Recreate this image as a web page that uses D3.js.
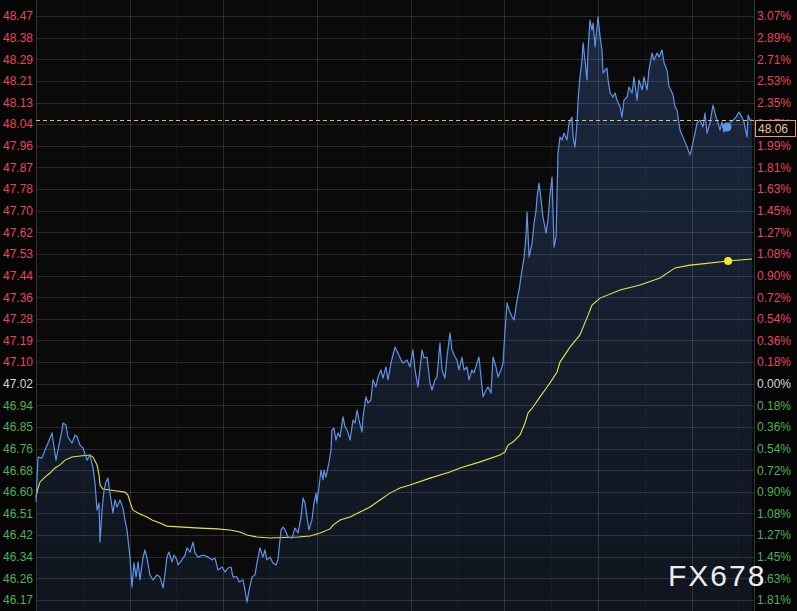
<!DOCTYPE html>
<html>
<head>
<meta charset="utf-8">
<script src="https://cdn.jsdelivr.net/npm/d3@7"></script>
<style>
  html, body { margin: 0; padding: 0; background: #000; }
  svg { display: block; }
</style>
</head>
<body>
<svg id="chart" width="797" height="611"></svg>
<script>
// ---------- DATA ----------
const baseClose = 47.0219;   // previous close (0.00% line)
const tickStep = 0.08519;    // axis step

const leftTickLabels = ["46.17","46.26","46.34","46.42","46.51","46.60","46.68","46.76","46.85","46.94",
  "47.02","47.10","47.19","47.28","47.36","47.44","47.53","47.62","47.70","47.78","47.87","47.96",
  "48.04","48.13","48.21","48.29","48.38","48.47"];
const rightTickLabels = ["1.81%","1.63%","1.45%","1.27%","1.08%","0.90%","0.72%","0.54%","0.36%","0.18%",
  "0.00%","0.18%","0.36%","0.54%","0.72%","0.90%","1.08%","1.27%","1.45%","1.63%","1.81%","1.99%",
  "2.17%","2.35%","2.53%","2.71%","2.89%","3.07%"];

// time in minutes from session start
const priceTimes = [0,1.3,3.8,5.8,7.7,10.3,10.9,12.8,14.1,16.7,17.3,19.2,20.5,23.1,25.0,26.3,28.2,30.1,32.7,34.6,
  36.5,37.8,39.1,40.4,41.0,42.3,43.6,44.8,46.1,47.4,49.3,50.6,51.9,53.8,55.7,57.0,58.3,60.2,61.5,62.8,
  64.1,65.4,66.6,68.6,69.8,71.1,73.0,75.0,77.5,79.4,81.4,82.7,83.9,85.2,87.1,88.4,90.3,91.0,93.5,95.5,
  96.7,98.7,100.6,101.9,103.8,107.0,110.2,112.8,114.7,116.6,119.2,121.1,123.0,124.9,126.2,128.8,130.1,132.6,133.9,135.2,
  136.5,138.4,140.3,141.6,143.5,145.4,146.7,147.9,149.9,151.8,153.8,155.0,157.0,158.3,159.5,161.5,164.0,165.9,167.9,169.8,
  171.1,172.3,173.6,174.9,176.8,178.1,179.4,180.0,181.3,182.6,183.9,184.5,185.8,187.1,187.7,189.0,189.6,190.9,192.2,193.5,
  194.8,196.7,198.0,199.3,201.2,203.1,204.4,205.7,206.9,208.9,209.5,211.4,212.7,214.6,215.9,217.8,219.1,221.0,222.3,224.2,
  225.5,227.4,228.7,230.0,231.9,233.9,235.1,237.7,239.6,241.5,242.8,244.7,247.3,248.6,250.5,252.4,253.7,255.6,256.9,258.8,
  260.1,262.0,263.3,265.2,266.5,268.5,269.7,271.0,272.9,274.2,276.1,277.4,279.3,280.6,282.5,283.8,285.1,286.4,288.3,289.6,
  291.5,292.8,294.7,296.0,297.9,299.2,300.5,301.8,303.1,305.0,306.3,308.2,309.5,311.4,312.7,313.9,314.6,315.9,317.8,319.1,
  320.4,321.0,322.3,323.6,324.8,326.8,328.0,329.3,330.6,331.9,333.2,334.4,335.7,337.0,338.3,340.2,341.5,343.4,344.1,345.3,
  346.6,347.3,348.5,349.8,350.5,351.7,353.0,353.7,354.9,356.2,356.9,358.2,359.4,360.1,361.4,362.6,363.3,364.6,365.8,366.5,
  367.8,369.7,371.0,372.2,374.2,375.4,376.7,378.7,379.9,381.9,383.1,385.1,386.3,388.3,389.5,391.5,392.7,394.7,395.9,397.9,
  399.2,401.1,402.4,404.3,405.6,406.2,408.1,409.4,410.7,412.6,414.5,417.1,419.0,420.3,422.2,423.5,425.4,427.3,428.6,429.9,
  431.8,433.7,435.7,437.0,438.2,439.5,440.8,442.7,444.6,446.6,448.5,450.4,452.3,453.6,455.5,456.2,457.5,458.7];
const priceValues = [46.556,46.733,46.729,46.761,46.788,46.828,46.800,46.721,46.761,46.840,46.867,46.859,46.812,46.788,46.820,46.812,46.780,46.769,46.721,46.741,
  46.690,46.631,46.524,46.552,46.398,46.524,46.603,46.635,46.650,46.591,46.513,46.564,46.536,46.564,46.532,46.485,46.446,46.339,46.221,46.316,
  46.261,46.320,46.249,46.339,46.367,46.335,46.269,46.249,46.269,46.261,46.217,46.276,46.339,46.359,46.320,46.347,46.328,46.308,46.328,46.347,
  46.375,46.359,46.398,46.355,46.339,46.347,46.339,46.328,46.335,46.288,46.300,46.280,46.296,46.300,46.261,46.261,46.241,46.249,46.209,46.162,
  46.209,46.261,46.269,46.316,46.375,46.339,46.367,46.328,46.339,46.316,46.308,46.328,46.446,46.457,46.446,46.418,46.414,46.453,46.434,46.497,
  46.572,46.552,46.497,46.446,46.485,46.552,46.591,46.552,46.615,46.682,46.643,46.682,46.654,46.694,46.710,46.761,46.840,46.847,46.800,46.828,
  46.812,46.891,46.851,46.840,46.800,46.879,46.867,46.918,46.879,46.832,46.891,46.970,46.946,46.958,47.037,47.009,47.048,47.076,47.044,47.088,
  47.037,47.103,47.135,47.166,47.143,47.115,47.103,47.115,47.088,47.155,47.076,47.009,47.155,47.123,47.127,47.025,46.997,47.037,47.048,47.182,
  47.076,47.044,47.127,47.222,47.155,47.127,47.115,47.076,47.127,47.076,47.088,47.037,47.076,47.064,47.103,47.127,47.048,46.970,46.997,47.009,
  46.985,47.127,47.088,47.048,47.076,47.103,47.233,47.340,47.312,47.285,47.273,47.352,47.391,47.470,47.521,47.600,47.698,47.521,47.576,47.655,
  47.706,47.757,47.812,47.745,47.678,47.615,47.667,47.765,47.836,47.560,47.600,47.930,47.993,47.982,48.009,47.982,48.049,48.072,47.993,47.954,
  48.049,48.139,48.230,48.297,48.364,48.297,48.218,48.336,48.454,48.415,48.442,48.348,48.427,48.466,48.387,48.336,48.246,48.257,48.265,48.218,
  48.167,48.151,48.167,48.139,48.112,48.072,48.139,48.151,48.190,48.167,48.230,48.139,48.218,48.179,48.230,48.179,48.257,48.324,48.297,48.324,
  48.309,48.336,48.285,48.257,48.190,48.186,48.159,48.112,48.100,48.021,47.993,47.954,47.923,47.954,48.009,48.049,48.060,48.033,48.088,48.009,
  48.049,48.119,48.072,48.049,48.021,48.053,48.013,48.033,48.049,48.060,48.072,48.092,48.072,48.053,47.993,48.080,48.060,48.060];

const avgTimes = [0,1.3,2.6,5.8,9.0,12.2,15.4,18.6,23.1,28.2,34.6,36.5,39.1,40.4,41.0,42.9,47.4,51.9,57.0,58.9,
  60.9,62.1,66.6,71.1,74.3,79.4,83.9,94.2,105.1,116.0,124.3,130.7,135.2,141.6,149.9,167.9,175.6,182.0,188.4,190.3,
  194.8,201.2,207.6,214.0,220.4,226.8,233.2,239.6,252.4,265.2,271.7,284.5,297.3,300.5,302.4,305.6,310.1,313.3,315.2,318.4,
  322.9,327.4,330.6,333.8,335.7,342.1,348.5,353.7,356.2,361.4,374.2,387.0,399.8,409.4,419.0,425.4,443.4,458.7];
const avgValues = [46.576,46.611,46.635,46.654,46.670,46.690,46.702,46.721,46.733,46.737,46.741,46.733,46.702,46.662,46.623,46.607,46.603,46.599,46.595,46.583,
  46.544,46.524,46.509,46.497,46.485,46.473,46.461,46.457,46.453,46.450,46.446,46.438,46.426,46.418,46.414,46.418,46.422,46.434,46.450,46.465,
  46.485,46.497,46.517,46.536,46.564,46.591,46.611,46.623,46.650,46.674,46.690,46.714,46.741,46.753,46.780,46.792,46.820,46.867,46.906,46.930,
  46.970,47.009,47.037,47.068,47.107,47.166,47.214,47.292,47.332,47.359,47.391,47.411,47.438,47.478,47.489,47.493,47.505,47.513];

const lastPrice = 48.06;
const markerIndexPrice = 287;   // hovered point
const markerIndexAvg = 76;

// ---------- LAYOUT ----------
const W = 797, H = 611;
const plotL = 36, plotR = 754;
const svg = d3.select("#chart");
svg.append("rect").attr("width", W).attr("height", H).attr("fill", "#050505");

const x = d3.scaleLinear().domain([0, 460]).range([plotL, plotR]);
const y = d3.scaleLinear()
  .domain([baseClose - 10 * tickStep, baseClose + 17 * tickStep])
  .range([600, 16]);

const RED = "#e5475d", GREEN = "#4fb15a", NEUTRAL = "#d8d8d8";

// plot background
svg.append("rect").attr("x", plotL).attr("y", 0).attr("width", plotR - plotL).attr("height", H)
  .attr("fill", "#0a0a0a");

// gradient fill under price
const defs = svg.append("defs");
const grad = defs.append("linearGradient").attr("id", "fillGrad")
  .attr("x1", 0).attr("y1", 0).attr("x2", 0).attr("y2", 1);
grad.append("stop").attr("offset", "0%").attr("stop-color", "#1c2a42").attr("stop-opacity", 0.95);
grad.append("stop").attr("offset", "100%").attr("stop-color", "#0f141d").attr("stop-opacity", 1);

const priceData = priceTimes.map((t, i) => ({ t, v: priceValues[i] }));
const avgData = avgTimes.map((t, i) => ({ t, v: avgValues[i] }));

const area = d3.area().x(d => x(d.t)).y0(H).y1(d => y(d.v));
svg.append("path").datum(priceData).attr("d", area).attr("fill", "url(#fillGrad)");

// grid
const ticksIdx = d3.range(0, leftTickLabels.length);
const tickVal = i => baseClose + (i - 10) * tickStep;
const grid = svg.append("g");
grid.selectAll("line.h").data(ticksIdx).join("line")
  .attr("x1", plotL).attr("x2", plotR)
  .attr("y1", i => Math.round(y(tickVal(i))) + 0.5).attr("y2", i => Math.round(y(tickVal(i))) + 0.5)
  .attr("stroke", "#ffffff").attr("stroke-opacity", 0.13).attr("stroke-width", 1);

const majorT = d3.range(60, 460, 60);
const minorT = d3.range(30, 460, 60);
grid.selectAll("line.vmaj").data(majorT).join("line")
  .attr("x1", d => Math.round(x(d)) + 0.5).attr("x2", d => Math.round(x(d)) + 0.5)
  .attr("y1", 0).attr("y2", H)
  .attr("stroke", "#ffffff").attr("stroke-opacity", 0.13);
grid.append("g").selectAll("line").data(minorT).join("line")
  .attr("x1", d => Math.round(x(d)) + 0.5).attr("x2", d => Math.round(x(d)) + 0.5)
  .attr("y1", 0).attr("y2", H)
  .attr("stroke", "#ffffff").attr("stroke-opacity", 0.09).attr("stroke-dasharray", "1,2");

// boundaries
svg.append("line").attr("x1", plotL + 0.5).attr("x2", plotL + 0.5).attr("y1", 0).attr("y2", H)
  .attr("stroke", "#333");
svg.append("line").attr("x1", plotR + 0.5).attr("x2", plotR + 0.5).attr("y1", 0).attr("y2", H)
  .attr("stroke", "#333");

// lines
const line = d3.line().x(d => x(d.t)).y(d => y(d.v));
svg.append("path").datum(avgData).attr("d", line)
  .attr("fill", "none").attr("stroke", "#e9e24e").attr("stroke-width", 1.1);
svg.append("path").datum(priceData).attr("d", line)
  .attr("fill", "none").attr("stroke", "#5f93e6").attr("stroke-width", 1.2).attr("stroke-linejoin", "round");

// last price dashed line
svg.append("line").attr("x1", plotL).attr("x2", plotR)
  .attr("y1", Math.round(y(lastPrice)) + 0.5).attr("y2", Math.round(y(lastPrice)) + 0.5)
  .attr("stroke", "#e8b87a").attr("stroke-width", 1).attr("stroke-dasharray", "4,3");

// markers
svg.append("circle").attr("cx", x(priceTimes[markerIndexPrice])).attr("cy", y(priceValues[markerIndexPrice]))
  .attr("r", 4.5).attr("fill", "#5f93e6");
svg.append("circle").attr("cx", x(avgTimes[markerIndexAvg])).attr("cy", y(avgValues[markerIndexAvg]))
  .attr("r", 4).attr("fill", "#f4e81e");

// axis labels
const colorFor = i => i > 10 ? RED : (i < 10 ? GREEN : NEUTRAL);
const font = "'Liberation Sans', Arial, sans-serif";
svg.append("g").selectAll("text").data(ticksIdx).join("text")
  .attr("x", 3).attr("y", i => y(tickVal(i)))
  .attr("dy", "0.36em")
  .attr("font-family", font).attr("font-size", 12)
  .attr("fill", colorFor)
  .text(i => leftTickLabels[i]);
svg.append("g").selectAll("text").data(ticksIdx).join("text")
  .attr("x", 757).attr("y", i => y(tickVal(i)))
  .attr("dy", "0.36em")
  .attr("font-family", font).attr("font-size", 12)
  .attr("fill", colorFor)
  .text(i => rightTickLabels[i]);

// last price label box
const ly = y(lastPrice);
svg.append("rect").attr("x", 755.5).attr("y", Math.round(ly) + 0.5).attr("width", 40).attr("height", 16)
  .attr("fill", "#050505").attr("stroke", "#e79a82").attr("stroke-width", 1);
svg.append("text").attr("x", 758).attr("y", Math.round(ly) + 8.5).attr("dy", "0.36em")
  .attr("font-family", font).attr("font-size", 12).attr("fill", "#f2c28e")
  .text(lastPrice.toFixed(2));

// watermark
svg.append("text").attr("x", 668).attr("y", 586)
  .attr("font-family", font).attr("font-size", 30).attr("letter-spacing", 2)
  .attr("fill", "#ececec").text("FX678");
</script>
</body>
</html>
